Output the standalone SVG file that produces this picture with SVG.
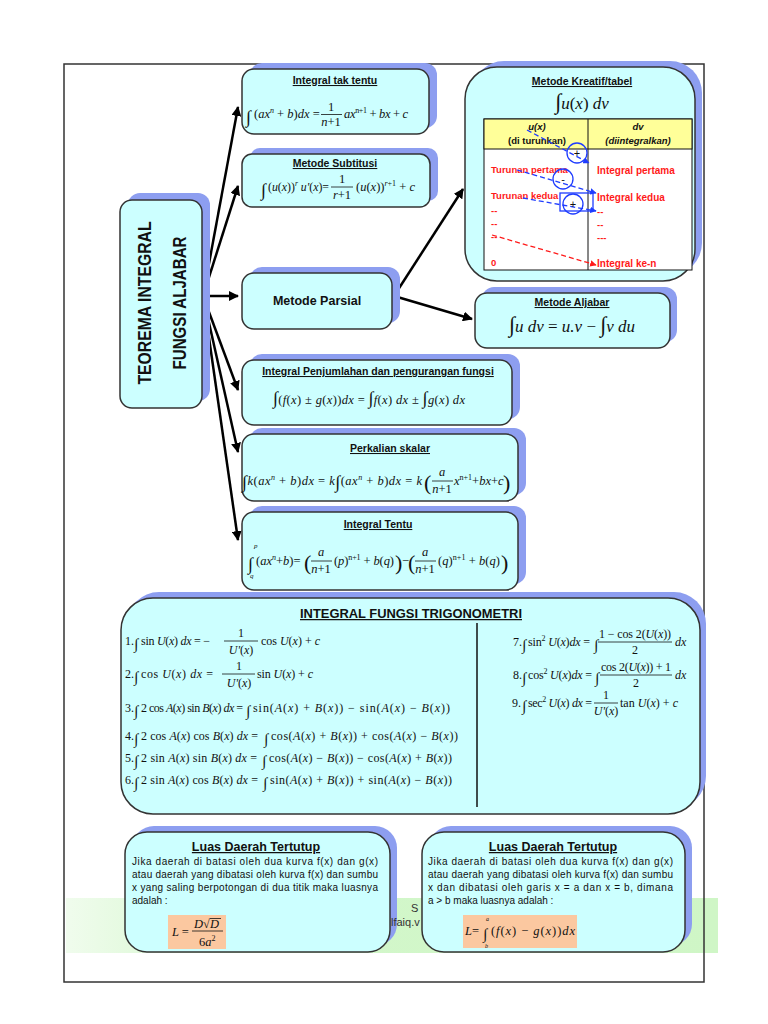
<svg xmlns="http://www.w3.org/2000/svg" width="768" height="1024" viewBox="0 0 768 1024">
<defs>
<style>
.box{fill:#ccffff;stroke:#333;stroke-width:1.5}
.sh{fill:#8d9ef0}
.t{font-family:"Liberation Sans",Arial,sans-serif;font-weight:bold;font-size:10.5px;fill:#111;text-anchor:middle;text-decoration:underline}
.m{font-family:"Liberation Serif","Times New Roman",serif;font-size:12.5px;font-style:italic;fill:#111}
.tr{font-family:"Liberation Serif","Times New Roman",serif;font-size:12px;font-style:italic;fill:#111}
.u{font-style:normal}
.s{font-size:8px}
.c{text-anchor:middle}
.ig{font-size:18px;font-style:normal}
.ti{font-size:15px;font-style:normal}
.bp{font-size:22px;font-style:normal}
.lim{font-size:7px}
.red{font-family:"Liberation Sans",Arial,sans-serif;font-weight:bold;font-size:9.5px;fill:#ff1a1a}
.red2{font-size:10px}
.hd{font-family:"Liberation Sans",Arial,sans-serif;font-weight:bold;font-size:9.5px;fill:#111;text-anchor:middle}
.body{font-family:"Liberation Sans",Arial,sans-serif;font-size:10px;fill:#111}
.fl{stroke:#111;stroke-width:0.8}
.conn{stroke:#000;stroke-width:2.5;fill:none;marker-end:url(#ah)}
.bd{stroke:#1f3cff;stroke-width:1.3;fill:none;stroke-dasharray:5 3}
.bc{stroke:#1f3cff;stroke-width:1.3;fill:none}
.org{fill:#fbc8a0}
.sg{font-family:"Liberation Sans",Arial,sans-serif;font-size:11px;fill:#111;text-anchor:middle}
</style>
<marker id="ah" viewBox="0 0 10 10" refX="9" refY="5" markerWidth="4" markerHeight="4" orient="auto"><path d="M0,0 L10,5 L0,10 z" fill="#000"/></marker>
<marker id="ab" viewBox="0 0 10 10" refX="9" refY="5" markerWidth="5" markerHeight="5" orient="auto"><path d="M0,0 L10,5 L0,10 z" fill="#1f3cff"/></marker>
<marker id="ar" viewBox="0 0 10 10" refX="9" refY="5" markerWidth="5" markerHeight="5" orient="auto"><path d="M0,0 L10,5 L0,10 z" fill="#ff1a1a"/></marker>
<linearGradient id="gb" x1="0" y1="0" x2="1" y2="0">
<stop offset="0" stop-color="#f0fced"/><stop offset="0.25" stop-color="#d3f7cb"/><stop offset="1" stop-color="#cff6c6"/>
</linearGradient>
</defs>
<rect x="0" y="0" width="768" height="1024" fill="#fff"/>
<rect x="66" y="898" width="652" height="55" fill="url(#gb)"/>
<rect x="64" y="64" width="640" height="918" fill="none" stroke="#333" stroke-width="1.5"/>

<g id="connectors">
<line class="conn" x1="203" y1="296" x2="238" y2="107"/>
<line class="conn" x1="203" y1="296" x2="238" y2="186"/>
<line class="conn" x1="203" y1="296" x2="238" y2="296"/>
<line class="conn" x1="203" y1="296" x2="238" y2="390"/>
<line class="conn" x1="203" y1="296" x2="238" y2="452"/>
<line class="conn" x1="203" y1="296" x2="238" y2="540"/>
<line class="conn" x1="394" y1="296" x2="463" y2="189"/>
<line class="conn" x1="394" y1="296" x2="472" y2="319"/>
</g>

<g id="node-title">
<rect class="sh" x="128" y="193" width="82" height="208" rx="12"/>
<rect class="box" x="120" y="200" width="82" height="208" rx="12"/>
<text transform="translate(151,303) rotate(-90)" text-anchor="middle" font-family="Liberation Sans,Arial,sans-serif" font-weight="bold" font-size="19" fill="#111" textLength="163" lengthAdjust="spacingAndGlyphs">TEOREMA INTEGRAL</text>
<text transform="translate(186,303) rotate(-90)" text-anchor="middle" font-family="Liberation Sans,Arial,sans-serif" font-weight="bold" font-size="19" fill="#111" textLength="133" lengthAdjust="spacingAndGlyphs">FUNGSI ALJABAR</text>
</g>

<g id="node-integral-tak-tentu">
<rect class="sh" x="250" y="63" width="187" height="65" rx="12"/>
<rect class="box" x="242" y="69" width="187" height="65" rx="12"/>
<text class="t" x="335" y="84">Integral tak tentu</text>
<text class="m ig" x="246" y="123">∫</text>
<text class="m" x="254" y="118"><tspan class="u">(</tspan>ax<tspan class="s" dy="-5">n</tspan><tspan class="u" dy="5"> + </tspan>b<tspan class="u">)</tspan>dx<tspan class="u"> =</tspan></text>
<text class="m u c" x="331" y="111">1</text>
<line class="fl" x1="321" y1="114.5" x2="342" y2="114.5"/>
<text class="m c" x="331" y="126">n<tspan class="u">+1</tspan></text>
<text class="m" x="344" y="118" textLength="64" lengthAdjust="spacing">ax<tspan class="s u" dy="-5">n+1</tspan><tspan class="u" dy="5"> + </tspan>bx<tspan class="u"> + </tspan>c</text>
</g>

<g id="node-metode-subtitusi">
<rect class="sh" x="250" y="148" width="188" height="53" rx="10"/>
<rect class="box" x="242" y="154" width="188" height="53" rx="10"/>
<text class="t" x="335" y="167">Metode Subtitusi</text>
<text class="m ig" x="261" y="196">∫</text>
<text class="m" x="268" y="191" textLength="61" lengthAdjust="spacingAndGlyphs"><tspan class="u">(</tspan>u<tspan class="u">(</tspan>x<tspan class="u">))</tspan><tspan class="s" dy="-5">r</tspan><tspan dy="5"> u'</tspan><tspan class="u">(</tspan>x<tspan class="u">)=</tspan></text>
<text class="m u c" x="342" y="183">1</text>
<line class="fl" x1="331" y1="187" x2="353" y2="187"/>
<text class="m c" x="342" y="199">r<tspan class="u">+1</tspan></text>
<text class="m" x="356" y="191"><tspan class="u">(</tspan>u<tspan class="u">(</tspan>x<tspan class="u">))</tspan><tspan class="s" dy="-5">r<tspan class="u">+1</tspan></tspan><tspan class="u" dy="5"> + </tspan>c</text>
</g>

<g id="node-metode-parsial">
<rect class="sh" x="250" y="267" width="150" height="56" rx="12"/>
<rect class="box" x="242" y="273" width="150" height="56" rx="12"/>
<text x="317" y="305" text-anchor="middle" font-family="Liberation Sans,Arial,sans-serif" font-weight="bold" font-size="12.5" fill="#111">Metode Parsial</text>
</g>

<g id="node-metode-kreatif">
<rect class="sh" x="472" y="61" width="230" height="214" rx="32"/>
<rect class="box" x="465" y="67" width="230" height="214" rx="32"/>
<text class="t" x="582" y="85">Metode Kreatif/tabel</text>
<text class="m" x="582" y="109" text-anchor="middle" style="font-size:17px"><tspan class="bp">∫</tspan>u<tspan class="u">(</tspan>x<tspan class="u">)</tspan> dv</text>
<rect x="484" y="119" width="208" height="151" fill="#fff" stroke="#111" stroke-width="1"/>
<rect x="484" y="119" width="208" height="30" fill="#ffff99" stroke="#111" stroke-width="1"/>
<line x1="588" y1="119" x2="588" y2="270" stroke="#111" stroke-width="1"/>
<text class="hd" x="537" y="130" font-style="italic">u(x)</text>
<text class="hd" x="537" y="144">(di turunkan)</text>
<text class="hd" x="638" y="130" font-style="italic">dv</text>
<text class="hd" x="638" y="144" font-style="italic">(diintegralkan)</text>
<text class="red" x="491" y="173">Turunan pertama</text>
<text class="red" x="491" y="199">Turunan kedua</text>
<text class="red" x="491" y="214">--</text>
<text class="red" x="491" y="227">--</text>
<text class="red" x="491" y="240">--</text>
<text class="red" x="491" y="266">0</text>
<text class="red red2" x="597" y="174">Integral pertama</text>
<text class="red red2" x="597" y="201">Integral kedua</text>
<text class="red" x="597" y="215">--</text>
<text class="red" x="597" y="228">--</text>
<text class="red" x="597" y="241">---</text>
<text class="red red2" x="597" y="267">Integral ke-n</text>
<line class="bd" x1="527" y1="130" x2="589" y2="163" marker-end="url(#ab)"/>
<circle class="bc" cx="577" cy="153" r="10"/>
<text class="sg" x="577" y="157">+</text>
<line class="bd" x1="517" y1="170" x2="596" y2="193" marker-end="url(#ab)"/>
<circle class="bc" cx="563" cy="179" r="10"/>
<text class="sg" x="563" y="183">-</text>
<line class="bd" x1="523" y1="198" x2="596" y2="211" marker-end="url(#ab)"/>
<rect class="bc" x="560" y="193" width="33" height="18"/>
<circle class="bc" cx="573" cy="204" r="10"/>
<text class="sg" x="573" y="208">+</text>
<line x1="492" y1="235" x2="596" y2="265" stroke="#ff1a1a" stroke-width="1.3" stroke-dasharray="5 3" marker-end="url(#ar)"/>
</g>

<g id="node-metode-aljabar">
<rect class="sh" x="482" y="287" width="195" height="55" rx="12"/>
<rect class="box" x="475" y="293" width="195" height="55" rx="12"/>
<text class="t" x="572" y="306">Metode Aljabar</text>
<text class="m" x="572" y="332" text-anchor="middle" style="font-size:17px"><tspan class="bp">∫</tspan>u dv <tspan class="u">=</tspan> u.v <tspan class="u">−</tspan> <tspan class="bp">∫</tspan>v du</text>
</g>

<g id="node-penjumlahan">
<rect class="sh" x="250" y="354" width="270" height="65" rx="12"/>
<rect class="box" x="242" y="360" width="270" height="65" rx="12"/>
<text class="t" x="378" y="375">Integral Penjumlahan dan pengurangan fungsi</text>
<text class="m" x="273" y="404" textLength="192" lengthAdjust="spacing"><tspan class="ig">∫</tspan><tspan class="u">(</tspan>f<tspan class="u">(</tspan>x<tspan class="u">) ± </tspan>g<tspan class="u">(</tspan>x<tspan class="u">))</tspan>dx <tspan class="u">=</tspan> <tspan class="ig">∫</tspan>f<tspan class="u">(</tspan>x<tspan class="u">)</tspan> dx <tspan class="u">±</tspan> <tspan class="ig">∫</tspan>g<tspan class="u">(</tspan>x<tspan class="u">)</tspan> dx</text>
</g>

<g id="node-perkalian-skalar">
<rect class="sh" x="250" y="428" width="276" height="67" rx="12"/>
<rect class="box" x="242" y="434" width="276" height="67" rx="12"/>
<text class="t" x="390" y="452">Perkalian skalar</text>
<text class="m" x="242" y="485" textLength="180" lengthAdjust="spacing"><tspan class="ig" dy="3">∫</tspan><tspan dy="-3">k</tspan><tspan class="u">(</tspan>ax<tspan class="s" dy="-5">n</tspan><tspan class="u" dy="5"> + </tspan>b<tspan class="u">)</tspan>dx<tspan class="u"> = </tspan>k<tspan class="ig" dy="3">∫</tspan><tspan class="u" dy="-3">(</tspan>ax<tspan class="s" dy="-5">n</tspan><tspan class="u" dy="5"> + </tspan>b<tspan class="u">)</tspan>dx<tspan class="u"> = </tspan>k</text>
<text class="m bp" x="424" y="490">(</text>
<text class="m c" x="442" y="476">a</text>
<line class="fl" x1="432" y1="481" x2="453" y2="481"/>
<text class="m c" x="442" y="493">n<tspan class="u">+1</tspan></text>
<text class="m" x="454" y="485">x<tspan class="s u" dy="-5">n+1</tspan><tspan class="u" dy="5">+</tspan>bx<tspan class="u">+</tspan>c</text>
<text class="m bp" x="503" y="490">)</text>
</g>

<g id="node-integral-tentu">
<rect class="sh" x="250" y="506" width="276" height="78" rx="12"/>
<rect class="box" x="242" y="512" width="276" height="78" rx="12"/>
<text class="t" x="378" y="528">Integral Tentu</text>
<text class="m ig" x="248" y="570">∫</text>
<text class="m lim" x="254" y="548">p</text>
<text class="m lim" x="250" y="578">q</text>
<text class="m" x="256" y="565"><tspan class="u">(</tspan>ax<tspan class="s" dy="-5">n</tspan><tspan class="u" dy="5">+</tspan>b<tspan class="u">)=</tspan></text>
<text class="m bp" x="304" y="570">(</text>
<text class="m c" x="321" y="556">a</text>
<line class="fl" x1="311" y1="561" x2="332" y2="561"/>
<text class="m c" x="321" y="573">n<tspan class="u">+1</tspan></text>
<text class="m" x="334" y="565" textLength="60" lengthAdjust="spacing"><tspan class="u">(</tspan>p<tspan class="u">)</tspan><tspan class="s u" dy="-5">n+1</tspan><tspan class="u" dy="5"> + </tspan>b<tspan class="u">(</tspan>q<tspan class="u">)</tspan></text>
<text class="m bp" x="395" y="570">)</text>
<text class="m u" x="402" y="565">−</text>
<text class="m bp" x="408" y="570">(</text>
<text class="m c" x="425" y="556">a</text>
<line class="fl" x1="415" y1="561" x2="436" y2="561"/>
<text class="m c" x="425" y="573">n<tspan class="u">+1</tspan></text>
<text class="m" x="438" y="565" textLength="62" lengthAdjust="spacing"><tspan class="u">(</tspan>q<tspan class="u">)</tspan><tspan class="s u" dy="-5">n+1</tspan><tspan class="u" dy="5"> + </tspan>b<tspan class="u">(</tspan>q<tspan class="u">)</tspan></text>
<text class="m bp" x="501" y="570">)</text>
</g>

<g id="node-trigonometri">
<rect class="sh" x="127" y="592" width="579" height="216" rx="32"/>
<rect class="box" x="121" y="598" width="579" height="216" rx="32"/>
<text class="t" x="411" y="618" style="font-size:12.5px" textLength="222" lengthAdjust="spacingAndGlyphs">INTEGRAL FUNGSI TRIGONOMETRI</text>
<line x1="477" y1="623" x2="477" y2="807" stroke="#111" stroke-width="1.5"/>

<text class="tr u" x="125" y="645">1.</text>
<text class="tr ti" x="134" y="649">∫</text>
<text class="tr" x="141" y="645" textLength="69" lengthAdjust="spacing"><tspan class="u">sin </tspan>U<tspan class="u">(</tspan>x<tspan class="u">)</tspan> dx <tspan class="u">= −</tspan></text>
<text class="tr u c" x="241" y="637">1</text>
<line class="fl" x1="224" y1="641" x2="258" y2="641"/>
<text class="tr c" x="241" y="654">U'<tspan class="u">(</tspan>x<tspan class="u">)</tspan></text>
<text class="tr" x="261" y="645" textLength="59" lengthAdjust="spacing"><tspan class="u">cos </tspan>U<tspan class="u">(</tspan>x<tspan class="u">) + </tspan>c</text>

<text class="tr u" x="125" y="678">2.</text>
<text class="tr ti" x="134" y="682">∫</text>
<text class="tr" x="141" y="678" textLength="72" lengthAdjust="spacing"><tspan class="u">cos </tspan>U<tspan class="u">(</tspan>x<tspan class="u">)</tspan> dx <tspan class="u">=</tspan></text>
<text class="tr u c" x="239" y="670">1</text>
<line class="fl" x1="222" y1="674" x2="255" y2="674"/>
<text class="tr c" x="239" y="687">U'<tspan class="u">(</tspan>x<tspan class="u">)</tspan></text>
<text class="tr" x="257" y="678" textLength="56" lengthAdjust="spacing"><tspan class="u">sin </tspan>U<tspan class="u">(</tspan>x<tspan class="u">) + </tspan>c</text>

<text class="tr u" x="125" y="712">3.</text>
<text class="tr ti" x="134" y="716">∫</text>
<text class="tr" x="141" y="712" textLength="102" lengthAdjust="spacing"><tspan class="u">2 cos </tspan>A<tspan class="u">(</tspan>x<tspan class="u">) sin </tspan>B<tspan class="u">(</tspan>x<tspan class="u">)</tspan> dx <tspan class="u">=</tspan></text>
<text class="tr ti" x="246" y="716">∫</text>
<text class="tr" x="253" y="712" textLength="197" lengthAdjust="spacing"><tspan class="u">sin(</tspan>A<tspan class="u">(</tspan>x<tspan class="u">) + </tspan>B<tspan class="u">(</tspan>x<tspan class="u">)) − sin(</tspan>A<tspan class="u">(</tspan>x<tspan class="u">) − </tspan>B<tspan class="u">(</tspan>x<tspan class="u">))</tspan></text>

<text class="tr u" x="125" y="740">4.</text>
<text class="tr ti" x="134" y="744">∫</text>
<text class="tr" x="141" y="740" textLength="117" lengthAdjust="spacing"><tspan class="u">2 cos </tspan>A<tspan class="u">(</tspan>x<tspan class="u">) cos </tspan>B<tspan class="u">(</tspan>x<tspan class="u">)</tspan> dx <tspan class="u">=</tspan></text>
<text class="tr ti" x="264" y="744">∫</text>
<text class="tr" x="271" y="740" textLength="187" lengthAdjust="spacing"><tspan class="u">cos(</tspan>A<tspan class="u">(</tspan>x<tspan class="u">) + </tspan>B<tspan class="u">(</tspan>x<tspan class="u">)) + cos(</tspan>A<tspan class="u">(</tspan>x<tspan class="u">) − </tspan>B<tspan class="u">(</tspan>x<tspan class="u">))</tspan></text>

<text class="tr u" x="125" y="762">5.</text>
<text class="tr ti" x="134" y="766">∫</text>
<text class="tr" x="141" y="762" textLength="116" lengthAdjust="spacing"><tspan class="u">2 sin </tspan>A<tspan class="u">(</tspan>x<tspan class="u">) sin </tspan>B<tspan class="u">(</tspan>x<tspan class="u">)</tspan> dx <tspan class="u">=</tspan></text>
<text class="tr ti" x="262" y="766">∫</text>
<text class="tr" x="269" y="762" textLength="183" lengthAdjust="spacing"><tspan class="u">cos(</tspan>A<tspan class="u">(</tspan>x<tspan class="u">) − </tspan>B<tspan class="u">(</tspan>x<tspan class="u">)) − cos(</tspan>A<tspan class="u">(</tspan>x<tspan class="u">) + </tspan>B<tspan class="u">(</tspan>x<tspan class="u">))</tspan></text>

<text class="tr u" x="125" y="784">6.</text>
<text class="tr ti" x="134" y="788">∫</text>
<text class="tr" x="141" y="784" textLength="117" lengthAdjust="spacing"><tspan class="u">2 sin </tspan>A<tspan class="u">(</tspan>x<tspan class="u">) cos </tspan>B<tspan class="u">(</tspan>x<tspan class="u">)</tspan> dx <tspan class="u">=</tspan></text>
<text class="tr ti" x="263" y="788">∫</text>
<text class="tr" x="270" y="784" textLength="182" lengthAdjust="spacing"><tspan class="u">sin(</tspan>A<tspan class="u">(</tspan>x<tspan class="u">) + </tspan>B<tspan class="u">(</tspan>x<tspan class="u">)) + sin(</tspan>A<tspan class="u">(</tspan>x<tspan class="u">) − </tspan>B<tspan class="u">(</tspan>x<tspan class="u">))</tspan></text>

<text class="tr u" x="513" y="646">7.</text>
<text class="tr ti" x="522" y="650">∫</text>
<text class="tr" x="528" y="646" textLength="62" lengthAdjust="spacing"><tspan class="u">sin</tspan><tspan class="s u" dy="-5">2</tspan><tspan dy="5"> U</tspan><tspan class="u">(</tspan>x<tspan class="u">)</tspan>dx <tspan class="u">=</tspan></text>
<text class="tr ti" x="594" y="650">∫</text>
<text class="tr c" x="635" y="638" textLength="72" lengthAdjust="spacing"><tspan class="u">1 − cos 2(</tspan>U<tspan class="u">(</tspan>x<tspan class="u">))</tspan></text>
<line class="fl" x1="598" y1="642" x2="672" y2="642"/>
<text class="tr u c" x="635" y="654">2</text>
<text class="tr" x="675" y="646">dx</text>

<text class="tr u" x="513" y="679">8.</text>
<text class="tr ti" x="522" y="683">∫</text>
<text class="tr" x="528" y="679" textLength="64" lengthAdjust="spacing"><tspan class="u">cos</tspan><tspan class="s u" dy="-5">2</tspan><tspan dy="5"> U</tspan><tspan class="u">(</tspan>x<tspan class="u">)</tspan>dx <tspan class="u">=</tspan></text>
<text class="tr ti" x="595" y="683">∫</text>
<text class="tr c" x="636" y="671" textLength="70" lengthAdjust="spacing"><tspan class="u">cos 2(</tspan>U<tspan class="u">(</tspan>x<tspan class="u">)) + 1</tspan></text>
<line class="fl" x1="600" y1="675" x2="672" y2="675"/>
<text class="tr u c" x="636" y="687">2</text>
<text class="tr" x="675" y="679">dx</text>

<text class="tr u" x="512" y="707">9.</text>
<text class="tr ti" x="522" y="711">∫</text>
<text class="tr" x="528" y="707" textLength="64" lengthAdjust="spacing"><tspan class="u">sec</tspan><tspan class="s u" dy="-5">2</tspan><tspan dy="5"> U</tspan><tspan class="u">(</tspan>x<tspan class="u">)</tspan> dx <tspan class="u">=</tspan></text>
<text class="tr u c" x="606" y="699">1</text>
<line class="fl" x1="594" y1="703" x2="618" y2="703"/>
<text class="tr c" x="606" y="715">U'<tspan class="u">(</tspan>x<tspan class="u">)</tspan></text>
<text class="tr" x="620" y="707" textLength="58" lengthAdjust="spacing"><tspan class="u">tan </tspan>U<tspan class="u">(</tspan>x<tspan class="u">) + </tspan>c</text>
</g>

<g id="node-luas-1">
<rect class="sh" x="132" y="826" width="265" height="120" rx="22"/>
<rect class="box" x="125" y="832" width="265" height="120" rx="22"/>
<text class="t" x="256" y="851" style="font-size:12.5px">Luas Daerah Tertutup</text>
<text class="body" x="132" y="865" textLength="246" lengthAdjust="spacing">Jika daerah di batasi oleh dua kurva f(x) dan g(x)</text>
<text class="body" x="132" y="878" textLength="246" lengthAdjust="spacing">atau daerah yang dibatasi oleh kurva f(x) dan sumbu</text>
<text class="body" x="132" y="891" textLength="246" lengthAdjust="spacing">x yang saling berpotongan di dua titik maka luasnya</text>
<text class="body" x="132" y="904">adalah :</text>
<rect class="org" x="168" y="915" width="58" height="34"/>
<text class="m" x="172" y="936">L <tspan class="u">=</tspan></text>
<text class="m" x="194" y="928">D<tspan class="u">√</tspan>D</text>
<line class="fl" x1="210" y1="918.5" x2="221" y2="918.5"/>
<line class="fl" x1="192" y1="931" x2="223" y2="931"/>
<text class="m" x="199" y="946"><tspan class="u">6</tspan>a<tspan class="s u" dy="-5">2</tspan></text>
</g>

<text class="body" x="411" y="912" style="font-size:11px;fill:#333">S</text>
<text class="body" x="391" y="926" style="font-size:11px;fill:#333">lfaiq.v</text>

<g id="node-luas-2">
<rect class="sh" x="429" y="826" width="263" height="120" rx="22"/>
<rect class="box" x="422" y="832" width="263" height="120" rx="22"/>
<text class="t" x="553" y="851" style="font-size:12.5px">Luas Daerah Tertutup</text>
<text class="body" x="428" y="865" textLength="245" lengthAdjust="spacing">Jika daerah di batasi oleh dua kurva f(x) dan g(x)</text>
<text class="body" x="428" y="878" textLength="245" lengthAdjust="spacing">atau daerah yang dibatasi oleh kurva f(x) dan sumbu</text>
<text class="body" x="428" y="891" textLength="245" lengthAdjust="spacing">x dan dibatasi oleh garis x = a dan x = b, dimana</text>
<text class="body" x="428" y="904">a &gt; b maka luasnya adalah :</text>
<rect class="org" x="463" y="915" width="114" height="33"/>
<text class="m" x="465" y="935">L<tspan class="u">=</tspan></text>
<text class="m ti" x="483" y="939">∫</text>
<text class="m" x="486" y="921" style="font-size:6px">a</text>
<text class="m" x="485" y="948" style="font-size:6px">b</text>
<text class="m" x="491" y="935" textLength="84" lengthAdjust="spacing"><tspan class="u">(</tspan>f<tspan class="u">(</tspan>x<tspan class="u">) − </tspan>g<tspan class="u">(</tspan>x<tspan class="u">))</tspan>dx</text>
</g>
</svg>
